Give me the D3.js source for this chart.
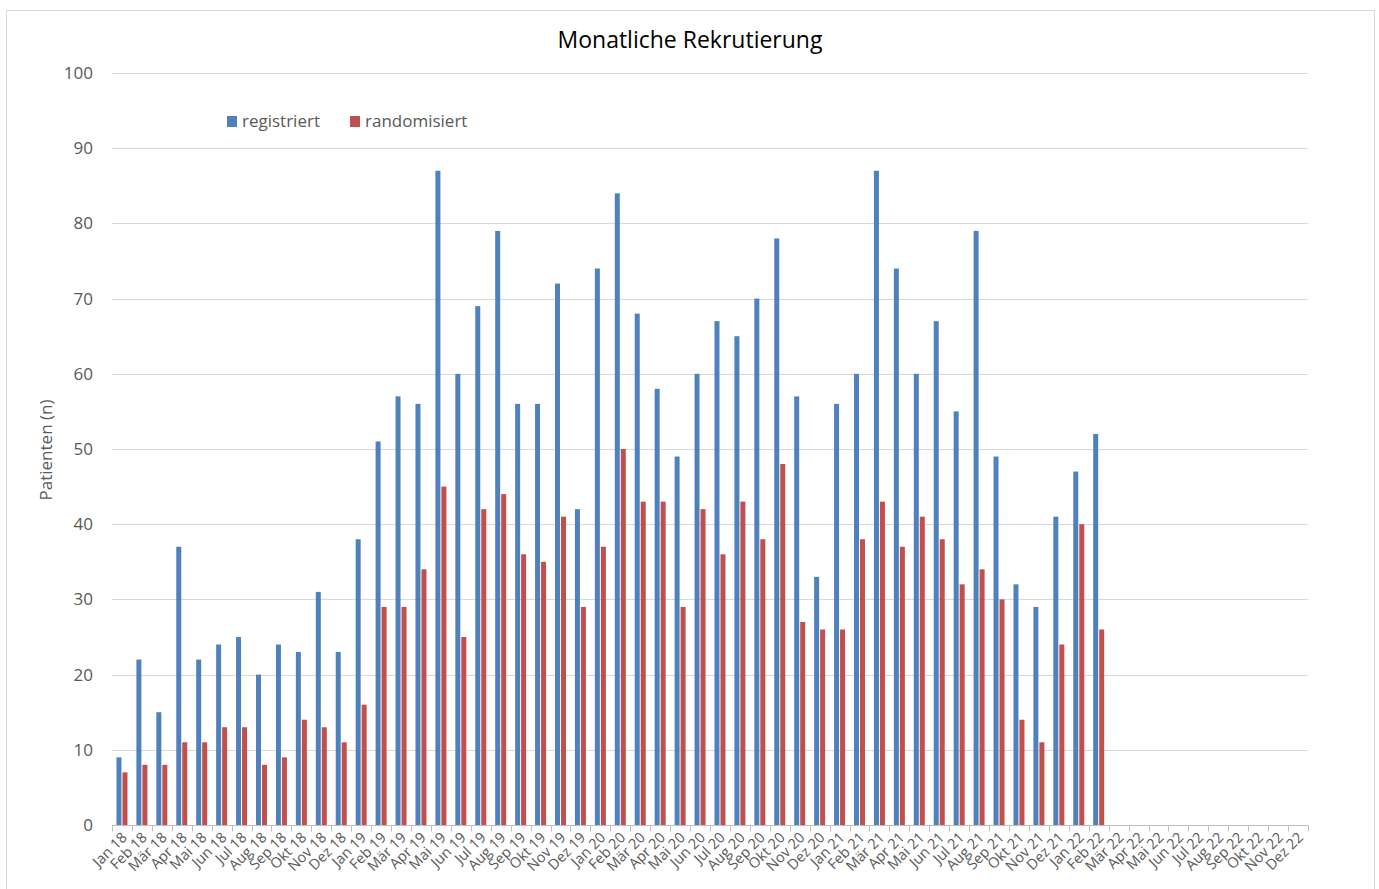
<!DOCTYPE html>
<html>
<head>
<meta charset="utf-8">
<title>Monatliche Rekrutierung</title>
<style>
body { margin: 0; background: #fff; }
text { font-family: "Open Sans", sans-serif; }
.grid line { stroke: #d9d9d9; stroke-width: 1px; }
.tick-label { fill: #595959; }
</style>
</head>
<body>
<script src="https://cdn.jsdelivr.net/npm/d3@7"></script>
<script>

var months = ["Jan", "Feb", "Mär", "Apr", "Mai", "Jun", "Jul", "Aug", "Sep", "Okt", "Nov", "Dez"];
var years = ["18", "19", "20", "21", "22"];

// monthly categories Jan 18 .. Dez 22
var categories = [];
years.forEach(function(y) {
  months.forEach(function(m) { categories.push(m + " " + y); });
});

var registriert = [9, 22, 15, 37, 22, 24, 25, 20, 24, 23, 31, 23,
                   38, 51, 57, 56, 87, 60, 69, 79, 56, 56, 72, 42,
                   74, 84, 68, 58, 49, 60, 67, 65, 70, 78, 57, 33,
                   56, 60, 87, 74, 60, 67, 55, 79, 49, 32, 29, 41,
                   47, 52];
var randomisiert = [7, 8, 8, 11, 11, 13, 13, 8, 9, 14, 13, 11,
                    16, 29, 29, 34, 45, 25, 42, 44, 36, 35, 41, 29,
                    37, 50, 43, 43, 29, 42, 36, 43, 38, 48, 27, 26,
                    26, 38, 43, 37, 41, 38, 32, 34, 30, 14, 11, 24,
                    40, 26];

var yTicks = [0, 10, 20, 30, 40, 50, 60, 70, 80, 90, 100];

var width = 1379, height = 889;
var margin = {left: 112, right: 71, top: 73, bottom: 64};

var svg = d3.select("body").append("svg")
    .attr("width", width)
    .attr("height", height);

// chart frame
svg.append("rect")
    .attr("x", 6.5).attr("y", 10.5)
    .attr("width", 1368).attr("height", 890)
    .attr("fill", "none")
    .attr("stroke", "#d9d9d9");

var x = d3.scaleBand()
    .domain(categories)
    .range([margin.left, width - margin.right]);

var y = d3.scaleLinear()
    .domain([0, 100])
    .range([height - margin.bottom, margin.top]);

// gridlines
svg.append("g").attr("class", "grid")
  .selectAll("line")
  .data(yTicks.slice(1))
  .enter().append("line")
    .attr("x1", margin.left).attr("x2", width - margin.right)
    .attr("y1", function(d) { return Math.round(y(d)) + 0.5; })
    .attr("y2", function(d) { return Math.round(y(d)) + 0.5; });

// y tick labels
svg.append("g")
  .selectAll("text")
  .data(yTicks)
  .enter().append("text")
    .attr("class", "tick-label")
    .attr("x", 93)
    .attr("y", function(d) { return y(d); })
    .attr("dy", "0.35em")
    .attr("text-anchor", "end")
    .style("font-size", "17px")
    .text(function(d) { return d; });

var bw = 5;

// bars
svg.append("g")
  .selectAll("rect")
  .data(registriert)
  .enter().append("rect")
    .attr("x", function(d, i) { return x(categories[i]) + x.bandwidth() / 2 - bw - 0.5; })
    .attr("y", function(d) { return y(d); })
    .attr("width", bw)
    .attr("height", function(d) { return y(0) - y(d); })
    .attr("fill", "#4f81bd");

svg.append("g")
  .selectAll("rect")
  .data(randomisiert)
  .enter().append("rect")
    .attr("x", function(d, i) { return x(categories[i]) + x.bandwidth() / 2 + 0.5; })
    .attr("y", function(d) { return y(d); })
    .attr("width", bw)
    .attr("height", function(d) { return y(0) - y(d); })
    .attr("fill", "#c0504d");

// x axis
var xAxis = svg.append("g")
    .attr("transform", "translate(0," + (y(0) + 0.5) + ")");

xAxis.append("line")
    .attr("x1", margin.left).attr("x2", width - margin.right)
    .attr("stroke", "#bfbfbf");

var bounds = categories.map(function(c) { return x(c); }).concat([width - margin.right]);
xAxis.selectAll("line.tk")
  .data(bounds)
  .enter().append("line")
    .attr("class", "tk")
    .attr("x1", function(d) { return Math.round(d) + 0.5; })
    .attr("x2", function(d) { return Math.round(d) + 0.5; })
    .attr("y1", 0).attr("y2", 6)
    .attr("stroke", "#bfbfbf");

xAxis.selectAll("text")
  .data(categories)
  .enter().append("text")
    .attr("class", "tick-label")
    .attr("text-anchor", "end")
    .style("font-size", "14.5px")
    .attr("transform", function(d) {
      return "translate(" + (x(d) + x.bandwidth() / 2 + 6) + ",13) rotate(-45)";
    })
    .text(function(d) { return d; });

// title
svg.append("text")
    .attr("x", 690).attr("y", 48)
    .attr("text-anchor", "middle")
    .style("font-size", "23px")
    .attr("fill", "#000")
    .text("Monatliche Rekrutierung");

// y axis title
svg.append("text")
    .attr("transform", "translate(52,450) rotate(-90)")
    .attr("text-anchor", "middle")
    .style("font-size", "17px")
    .attr("fill", "#595959")
    .text("Patienten (n)");

// legend
var legend = [{name: "registriert", color: "#4f81bd", x: 227},
              {name: "randomisiert", color: "#c0504d", x: 350}];
var lg = svg.append("g").selectAll("g")
  .data(legend)
  .enter().append("g")
    .attr("transform", function(d) { return "translate(" + d.x + ",115)"; });
lg.append("rect")
    .attr("width", 10).attr("height", 11)
    .attr("y", 1)
    .attr("fill", function(d) { return d.color; });
lg.append("text")
    .attr("x", 15).attr("y", 12)
    .attr("class", "tick-label")
    .style("font-size", "17px")
    .text(function(d) { return d.name; });

</script>
</body>
</html>
